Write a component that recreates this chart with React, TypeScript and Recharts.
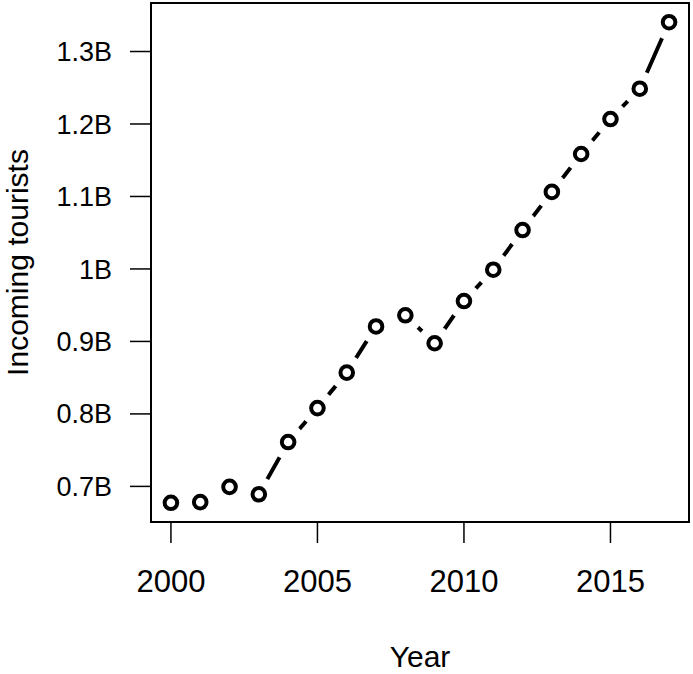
import React from 'react'
import { LineChart, Line, XAxis, YAxis, ReferenceArea, Label } from 'recharts'

const years = [2000, 2001, 2002, 2003, 2004, 2005, 2006, 2007, 2008, 2009, 2010, 2011, 2012, 2013, 2014, 2015, 2016, 2017]
const tourists = [
  677.4e6, 678.3e6, 699.3e6, 689.1e6, 761.2e6, 808.0e6, 857.0e6, 920.7e6, 936.1e6,
  897.5e6, 955.7e6, 999.0e6, 1053.7e6, 1106.3e6, 1158.6e6, 1206.8e6, 1248.7e6, 1340.4e6,
]
const xTicks = [2000, 2005, 2010, 2015]
const yTicks = [0.7e9, 0.8e9, 0.9e9, 1.0e9, 1.1e9, 1.2e9, 1.3e9]

const data = years.map((year, i) => ({ year, value: tourists[i] }))

// R-style 4% padding on each side
const pad = (lo: number, hi: number): [number, number] => {
  const r = hi - lo
  return [lo - r * 0.04, hi + r * 0.04]
}
const xDomain = pad(Math.min(...years), Math.max(...years))
const yDomain = pad(Math.min(...tourists), Math.max(...tourists))

const font = 'Liberation Sans, Arial, Helvetica, sans-serif'
const xTickStyle = { fill: '#000', fontSize: 31, fontFamily: font }
const yTickStyle = { fill: '#000', fontSize: 27, fontFamily: font }

const fmtB = (v: number) => `${parseFloat((v / 1e9).toFixed(1))}B`

// circle with white halo so the connecting line leaves a gap (R type = "b")
const GapDot = (props: any) => {
  const { cx, cy, index } = props
  if (cx == null || cy == null) return null
  return (
    <g key={`dot-${index}`}>
      <circle cx={cx} cy={cy} r={17.5} fill="#fff" stroke="none" />
      <circle cx={cx} cy={cy} r={6.3} fill="#fff" stroke="#000" strokeWidth={4} />
    </g>
  )
}

export default function App() {
  return (
    <div style={{ position: 'absolute', left: 0, top: 0, background: '#fff' }}>
      <LineChart width={693} height={674} data={data} margin={{ top: 3, right: 4, bottom: 0, left: 0 }}>
        <XAxis
          dataKey="year"
          type="number"
          domain={xDomain}
          ticks={xTicks}
          allowDataOverflow
          axisLine={false}
          tickSize={21}
          tickMargin={27}
          tickLine={{ stroke: '#000', strokeWidth: 1.5 }}
          tick={xTickStyle}
          height={152}
        >
          <Label
            content={(p: any) => {
              const vb = p.viewBox
              return (
                <text x={vb.x + vb.width / 2} y={667} textAnchor="middle" fontSize={30} fontFamily={font} fill="#000">
                  Year
                </text>
              )
            }}
          />
        </XAxis>
        <YAxis
          type="number"
          domain={yDomain}
          ticks={yTicks}
          allowDataOverflow
          axisLine={false}
          tickSize={21}
          tickMargin={18}
          tickLine={{ stroke: '#000', strokeWidth: 1.5 }}
          tick={yTickStyle}
          tickFormatter={fmtB}
          width={151}
        >
          <Label
            content={(p: any) => {
              const vb = p.viewBox
              const cy = vb.y + vb.height / 2
              return (
                <text x={28} y={cy} transform={`rotate(-90 28 ${cy})`} textAnchor="middle" fontSize={30} fontFamily={font} fill="#000">
                  Incoming tourists
                </text>
              )
            }}
          />
        </YAxis>
        <ReferenceArea
          x1={xDomain[0]}
          x2={xDomain[1]}
          y1={yDomain[0]}
          y2={yDomain[1]}
          fill="none"
          fillOpacity={0}
          stroke="#000"
          strokeWidth={2}
        />
        <Line
          type="linear"
          dataKey="value"
          stroke="#000"
          strokeWidth={4}
          strokeLinecap="round"
          dot={GapDot}
          activeDot={false}
          isAnimationActive={false}
        />
      </LineChart>
    </div>
  )
}
